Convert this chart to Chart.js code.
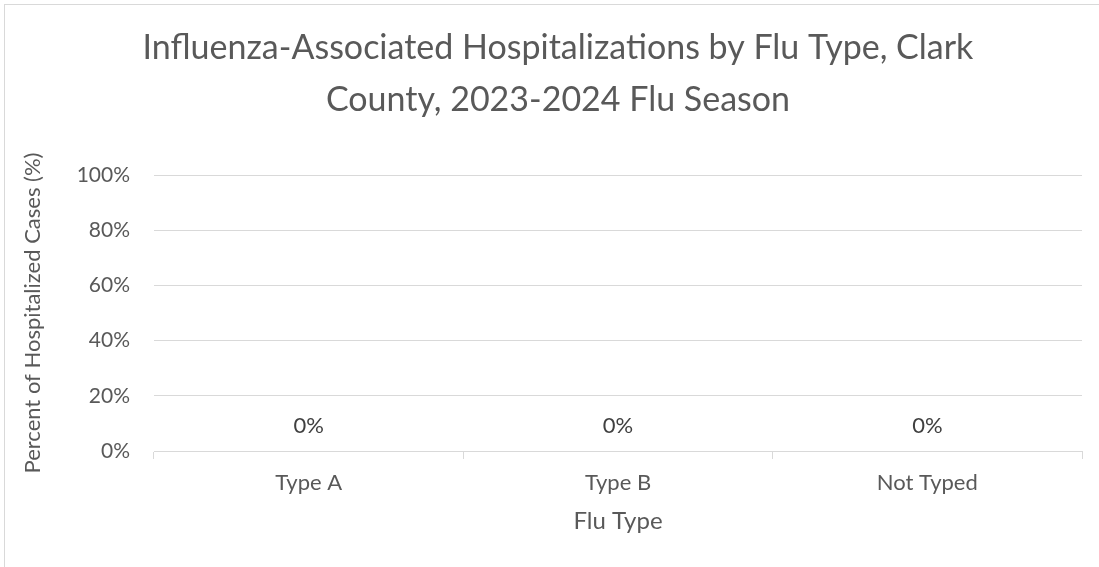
<!DOCTYPE html>
<html>
<head>
<meta charset="utf-8">
<script src="https://cdn.jsdelivr.net/npm/chart.js@4.4.0/dist/chart.umd.min.js"></script>
<style>
  html, body { margin: 0; padding: 0; background: #fff; overflow: hidden; }
  #frame {
    position: absolute; left: 4px; top: 4px;
    width: 1094px; height: 562px;
    border-left: 1px solid #d9d9d9; border-top: 1px solid #d9d9d9;
  }
  #chart { display: block; }
</style>
</head>
<body>
<div id="frame"><canvas id="chart" width="1094" height="562"></canvas></div>
<script>
// 資料
const categories = ['Type A', 'Type B', 'Not Typed'];
const percentValues = [0, 0, 0];
const yTicks = [0, 20, 40, 60, 80, 100];

const titleLines = ['Influenza-Associated Hospitalizations by Flu Type, Clark', 'County, 2023-2024 Flu Season'];
const fontFamily = 'Lato, "Open Sans", sans-serif';
const gridColor = '#d9d9d9';
const textColor = '#595959';

// 長條上方的數值標籤
const barLabels = {
    id: 'barLabels',
    afterDatasetsDraw(chart) {
        const ctx = chart.ctx;
        const meta = chart.getDatasetMeta(0);
        ctx.save();
        ctx.font = '22px ' + fontFamily;
        ctx.fillStyle = '#404040';
        ctx.textAlign = 'center';
        ctx.textBaseline = 'middle';
        meta.data.forEach((bar, i) => {
            ctx.fillText(percentValues[i] + '%', bar.x, bar.y - 25);
        });
        ctx.restore();
    }
};

new Chart(document.getElementById('chart'), {
    type: 'bar',
    data: {
        labels: categories,
        datasets: [{
            label: 'Percent',
            data: percentValues,
            backgroundColor: '#4472C4',
            borderWidth: 0
        }]
    },
    options: {
        responsive: false,
        animation: false,
        layout: { padding: { left: 29, right: 17, top: 0, bottom: 0 } },
        scales: {
            x: {
                grid: {
                    offset: true,
                    drawOnChartArea: false,
                    drawTicks: true,
                    tickLength: 8,
                    color: gridColor
                },
                border: { color: gridColor, width: 1 },
                ticks: {
                    color: textColor,
                    font: { family: fontFamily, size: 22 },
                    padding: 11
                },
                title: {
                    display: true,
                    text: 'Flu Type',
                    color: textColor,
                    font: { family: fontFamily, size: 24 },
                    padding: { top: 0, bottom: 31.5 }
                },
                afterFit(scale) { scale.height = 116; }
            },
            y: {
                min: 0,
                max: 100,
                afterBuildTicks(scale) {
                    scale.ticks = yTicks.map(v => ({ value: v }));
                },
                grid: {
                    color: gridColor,
                    lineWidth: 1,
                    drawTicks: false
                },
                border: { display: false },
                ticks: {
                    color: textColor,
                    font: { family: fontFamily, size: 21 },
                    padding: 24,
                    callback: v => v + '%'
                },
                title: {
                    display: true,
                    text: 'Percent of Hospitalized Cases (%)',
                    color: textColor,
                    font: { family: fontFamily, size: 22 },
                    padding: { top: -14.2, bottom: 0 }
                },
                afterFit(scale) { scale.width = 120; }
            }
        },
        plugins: {
            legend: { display: false },
            tooltip: { enabled: false },
            title: {
                display: true,
                text: titleLines,
                color: textColor,
                font: { family: fontFamily, size: 34, weight: 'normal', lineHeight: 1.53 },
                padding: { top: 17, bottom: 49 }
            }
        }
    },
    plugins: [barLabels]
});
</script>
</body>
</html>
